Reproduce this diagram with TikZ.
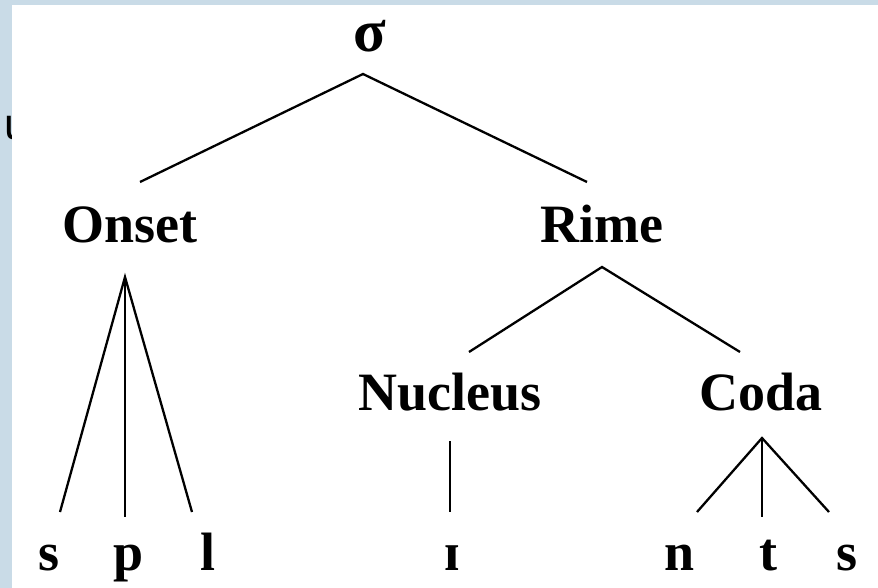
\documentclass[tikz,border=0pt]{standalone}
\usepackage{fontspec}
\setmainfont{Liberation Serif}
\setsansfont{Liberation Sans}
\definecolor{framebg}{RGB}{201,219,231}
\tikzset{
  lbl/.style={anchor=base, inner sep=0pt, font=\fontsize{54}{60}\selectfont\bfseries},
  branch/.style={line width=2.3pt, black},
  stem/.style={line width=1.7pt, black},
}
\begin{document}
\begin{tikzpicture}[x=1pt, y=-1pt]
\useasboundingbox (0,0) rectangle (878,588);
% slide frame and page
\fill[framebg] (0,0) rectangle (878,588);
\node[anchor=base west, inner sep=0pt, font=\sffamily\fontsize{44}{50}\selectfont] (clipped) at (4,140) {u};
\fill[white] (12,5) rectangle (878,588);

% labels
\node[lbl, font=\fontsize{60}{66}\selectfont\bfseries] (sigma) at (370,52) {σ};
\node[lbl] (onset) at (130,242) {Onset};
\node[lbl] (rime) at (602,242) {Rime};
\node[lbl] (nucleus) at (450,410) {Nucleus};
\node[lbl] (coda) at (761,410) {Coda};
\node[lbl] (s1) at (49,570) {s};
\node[lbl] (p) at (129,570) {p};
\node[lbl] (l) at (208,570) {l};
\node[lbl] (ih) at (452,570) {ɪ};
\node[lbl] (n) at (680,570) {n};
\node[lbl] (t) at (768,570) {t};
\node[lbl] (s2) at (847,570) {s};

% branch end points
\coordinate (sigmaLow) at (363,74);
\coordinate (onsetHigh) at (140,182);
\coordinate (rimeHigh) at (587,182);
\coordinate (onsetLow) at (125,277);
\coordinate (s1High) at (60,512);
\coordinate (pHigh) at (125,517);
\coordinate (lHigh) at (192,512);
\coordinate (rimeLow) at (602,267);
\coordinate (nucleusHigh) at (469,352);
\coordinate (codaHigh) at (740,352);
\coordinate (nucleusLow) at (450,441);
\coordinate (ihHigh) at (450,512);
\coordinate (codaLow) at (762,438);
\coordinate (nHigh) at (697,512);
\coordinate (tHigh) at (762,517);
\coordinate (s2High) at (829,512);

% branches
\draw[branch] (onsetHigh) -- (sigmaLow) -- (rimeHigh);
\draw[branch] (s1High) -- (onsetLow) -- (lHigh);
\draw[stem] (onsetLow) -- (pHigh);
\draw[branch] (nucleusHigh) -- (rimeLow) -- (codaHigh);
\draw[stem] (nucleusLow) -- (ihHigh);
\draw[branch] (nHigh) -- (codaLow) -- (s2High);
\draw[stem] (codaLow) -- (tHigh);
\end{tikzpicture}
\end{document}
